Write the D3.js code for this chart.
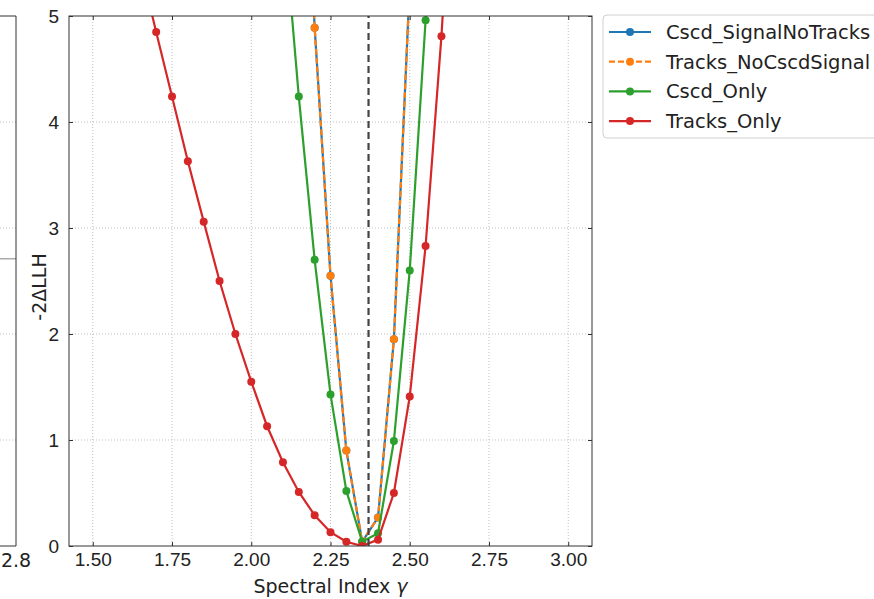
<!DOCTYPE html>
<html>
<head>
<meta charset="utf-8">
<script src="https://cdn.jsdelivr.net/npm/d3@7"></script>
<style>
  body { margin: 0; background: #fff; }
  svg { display: block; font-family: "DejaVu Sans", sans-serif; }
  .grid line { stroke: #b0b0b0; stroke-width: 0.8; stroke-dasharray: 1,2; }
</style>
</head>
<body>
<div id="chart"></div>
<script>
// scan values, -2 delta LLH vs spectral index
const cscdSignalGamma = [2.15, 2.20, 2.25, 2.30, 2.35, 2.40, 2.45, 2.50];
const cscdSignalLLH   = [8.0, 4.89, 2.55, 0.90, 0.04, 0.27, 1.95, 5.3];

const tracksNoCscdGamma = [2.15, 2.20, 2.25, 2.30, 2.35, 2.40, 2.45, 2.50];
const tracksNoCscdLLH   = [8.0, 4.89, 2.55, 0.90, 0.04, 0.27, 1.95, 5.3];

const cscdOnlyGamma = [2.10, 2.15, 2.20, 2.25, 2.30, 2.35, 2.40, 2.45, 2.50, 2.55, 2.60];
const cscdOnlyLLH   = [6.0, 4.24, 2.70, 1.43, 0.52, 0.04, 0.12, 0.99, 2.60, 4.96, 7.9];

const tracksOnlyGamma = [1.65, 1.70, 1.75, 1.80, 1.85, 1.90, 1.95, 2.00, 2.05, 2.10, 2.15,
                         2.20, 2.25, 2.30, 2.35, 2.40, 2.45, 2.50, 2.55, 2.60, 2.65];
const tracksOnlyLLH   = [5.47, 4.85, 4.24, 3.63, 3.06, 2.50, 2.00, 1.55, 1.13, 0.79, 0.51,
                         0.29, 0.13, 0.04, 0.00, 0.06, 0.50, 1.41, 2.83, 4.81, 7.3];

const bestGamma = 2.37;
const xTicks = [1.50, 1.75, 2.00, 2.25, 2.50, 2.75, 3.00];
const yTicks = [0, 1, 2, 3, 4, 5];
const leftPanelTick = "2.8";
const leftPanelLine = 2.71;

const series = [
  {name: "Cscd_SignalNoTracks", g: cscdSignalGamma, v: cscdSignalLLH, color: "#1f77b4", dash: null},
  {name: "Tracks_NoCscdSignal", g: tracksNoCscdGamma, v: tracksNoCscdLLH, color: "#ff7f0e", dash: "6,3"},
  {name: "Cscd_Only", g: cscdOnlyGamma, v: cscdOnlyLLH, color: "#2ca02c", dash: null},
  {name: "Tracks_Only", g: tracksOnlyGamma, v: tracksOnlyLLH, color: "#d62728", dash: null}
];

const opt = {width: 874, height: 599, left: 69, right: 592, top: 16, bottom: 546, fs: 19};

const svg = d3.select("#chart").append("svg")
  .attr("width", opt.width)
  .attr("height", opt.height);

const x = d3.scaleLinear().domain([1.425, 3.075]).range([opt.left, opt.right]);
const y = d3.scaleLinear().domain([0, 5]).range([opt.bottom, opt.top]);

// --- cut-off neighbouring panel on the left
const lp = svg.append("g");
lp.selectAll("line.g").data([1, 2, 3, 4]).enter().append("line")
  .attr("x1", 0).attr("x2", 16)
  .attr("y1", d => y(d)).attr("y2", d => y(d))
  .attr("stroke", "#b0b0b0").attr("stroke-width", 0.8).attr("stroke-dasharray", "1,2");
lp.append("line")
  .attr("x1", 0).attr("x2", 16)
  .attr("y1", y(leftPanelLine)).attr("y2", y(leftPanelLine))
  .attr("stroke", "#aaaaaa").attr("stroke-width", 1.5);
lp.append("path")
  .attr("d", `M0,${opt.top}H16V${opt.bottom}H0`)
  .attr("fill", "none").attr("stroke", "#333").attr("stroke-width", 1);
lp.append("text")
  .attr("x", 16).attr("y", 567)
  .attr("text-anchor", "middle").attr("font-size", opt.fs).attr("fill", "#222")
  .text(leftPanelTick);

// --- grid
const grid = svg.append("g").attr("class", "grid");
grid.selectAll("line.vx").data(xTicks).enter().append("line")
  .attr("x1", d => x(d)).attr("x2", d => x(d))
  .attr("y1", opt.top).attr("y2", opt.bottom);
grid.selectAll("line.hy").data(yTicks.slice(1, -1)).enter().append("line")
  .attr("x1", opt.left).attr("x2", opt.right)
  .attr("y1", d => y(d)).attr("y2", d => y(d));

svg.append("clipPath").attr("id", "clip")
  .append("rect")
  .attr("x", opt.left).attr("y", opt.top)
  .attr("width", opt.right - opt.left).attr("height", opt.bottom - opt.top);

const plot = svg.append("g").attr("clip-path", "url(#clip)");

const line = d3.line().x(d => x(d[0])).y(d => y(d[1]));

series.forEach(s => {
  const pts = s.g.map((g, i) => [g, s.v[i]]);
  plot.append("path")
    .datum(pts)
    .attr("d", line)
    .attr("fill", "none")
    .attr("stroke", s.color)
    .attr("stroke-width", 2.2)
    .attr("stroke-dasharray", s.dash);
  plot.selectAll(null).data(pts).enter().append("circle")
    .attr("cx", d => x(d[0]))
    .attr("cy", d => y(d[1]))
    .attr("r", 4)
    .attr("fill", s.color);
});

// best fit line
plot.append("line")
  .attr("x1", x(bestGamma)).attr("x2", x(bestGamma))
  .attr("y1", y(0)).attr("y2", y(5))
  .attr("stroke", "#444").attr("stroke-width", 2.2)
  .attr("stroke-dasharray", "7,4");

// --- axes with inward ticks on all sides
svg.append("g")
  .attr("transform", `translate(0,${opt.bottom})`)
  .call(d3.axisBottom(x).tickValues(xTicks).tickFormat(d3.format(".2f")).tickSizeInner(-4).tickSizeOuter(0).tickPadding(7))
  .call(g => g.select(".domain").remove())
  .selectAll("text").attr("font-size", opt.fs).attr("fill", "#222");

svg.append("g")
  .attr("transform", `translate(0,${opt.top})`)
  .call(d3.axisTop(x).tickValues(xTicks).tickFormat("").tickSizeInner(-4).tickSizeOuter(0))
  .call(g => g.select(".domain").remove());

svg.append("g")
  .attr("transform", `translate(${opt.left},0)`)
  .call(d3.axisLeft(y).tickValues(yTicks).tickFormat(d3.format("d")).tickSizeInner(-4).tickSizeOuter(0).tickPadding(10))
  .call(g => g.select(".domain").remove())
  .selectAll("text").attr("font-size", opt.fs).attr("fill", "#222");

svg.append("g")
  .attr("transform", `translate(${opt.right},0)`)
  .call(d3.axisRight(y).tickValues(yTicks).tickFormat("").tickSizeInner(-4).tickSizeOuter(0))
  .call(g => g.select(".domain").remove());

svg.selectAll(".tick line").attr("stroke", "#333");

svg.append("rect")
  .attr("x", opt.left).attr("y", opt.top)
  .attr("width", opt.right - opt.left).attr("height", opt.bottom - opt.top)
  .attr("fill", "none").attr("stroke", "#333").attr("stroke-width", 1);

// labels
const xl = svg.append("text")
  .attr("x", (opt.left + opt.right) / 2).attr("y", 593)
  .attr("text-anchor", "middle").attr("font-size", opt.fs).attr("fill", "#222");
xl.append("tspan").text("Spectral Index ");
xl.append("tspan").attr("font-style", "italic").text("γ");

svg.append("text")
  .attr("transform", `translate(46,${(opt.top + opt.bottom) / 2 + 6}) rotate(-90)`)
  .attr("text-anchor", "middle").attr("font-size", opt.fs).attr("fill", "#222")
  .text("-2ΔLLH");

// legend
const lg = svg.append("g");
lg.append("rect")
  .attr("x", 603).attr("y", 15).attr("width", 290).attr("height", 123)
  .attr("rx", 4).attr("fill", "#fff").attr("stroke", "#d0d0d0").attr("stroke-width", 1);

series.forEach((s, i) => {
  const ly = 32 + i * 29.7;
  lg.append("line")
    .attr("x1", 609).attr("x2", 651).attr("y1", ly).attr("y2", ly)
    .attr("stroke", s.color).attr("stroke-width", 2.2)
    .attr("stroke-dasharray", s.dash);
  lg.append("circle").attr("cx", 630).attr("cy", ly).attr("r", 4).attr("fill", s.color);
  lg.append("text")
    .attr("x", 666).attr("y", ly + 7)
    .attr("font-size", 19.5).attr("fill", "#222")
    .text(s.name);
});
</script>
</body>
</html>
